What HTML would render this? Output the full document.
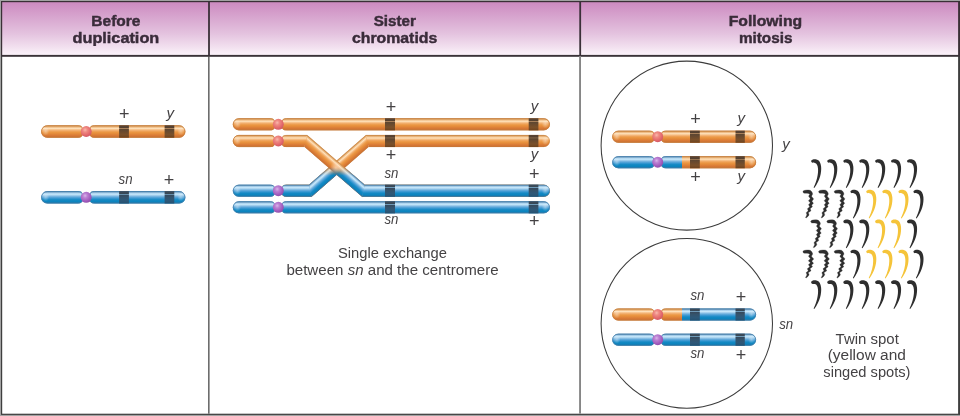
<!DOCTYPE html>
<html lang="en"><head><meta charset="utf-8"><title>Mitotic recombination: twin spot</title>
<style>
html,body{margin:0;padding:0;background:#fff;}
body{width:960px;height:416px;overflow:hidden;}
svg{display:block;font-family:"Liberation Sans",sans-serif;}
</style></head><body>
<svg width="960" height="416" viewBox="0 0 960 416">
<defs>
<radialGradient id="rg1"><stop offset="0" stop-color="#fff" stop-opacity="0.38"/><stop offset="0.5" stop-color="#fff" stop-opacity="0.2"/><stop offset="1" stop-color="#fff" stop-opacity="0"/></radialGradient>
<radialGradient id="rg2" cx="0.4" cy="0.35" r="0.7"><stop offset="0" stop-color="#f9b8ae"/><stop offset="0.3" stop-color="#ef8a82"/><stop offset="0.7" stop-color="#e3686c"/><stop offset="1" stop-color="#cc5666"/></radialGradient>
<radialGradient id="rg3" cx="0.4" cy="0.35" r="0.7"><stop offset="0" stop-color="#dab4ea"/><stop offset="0.3" stop-color="#bb80d2"/><stop offset="0.7" stop-color="#a25cbe"/><stop offset="1" stop-color="#8c4ca8"/></radialGradient>
<linearGradient id="lg4" gradientUnits="userSpaceOnUse" x1="0.00" y1="2.00" x2="0.00" y2="55.00"><stop offset="0" stop-color="#cc8abf"/><stop offset="0.06" stop-color="#cf90c3"/><stop offset="0.25" stop-color="#d6a2cd"/><stop offset="0.6" stop-color="#e4c3df"/><stop offset="0.85" stop-color="#f2e0ef"/><stop offset="1" stop-color="#fbf3fa"/></linearGradient>
<linearGradient id="lg5" gradientUnits="userSpaceOnUse" x1="41.10" y1="125.30" x2="41.10" y2="137.70"><stop offset="0" stop-color="#d49a5c"/><stop offset="0.08" stop-color="#dba05e"/><stop offset="0.16" stop-color="#f0c08c"/><stop offset="0.25" stop-color="#fee2bc"/><stop offset="0.34" stop-color="#f8c48e"/><stop offset="0.46" stop-color="#efa45c"/><stop offset="0.58" stop-color="#ea9540"/><stop offset="0.7" stop-color="#e2883a"/><stop offset="0.82" stop-color="#d97a36"/><stop offset="0.93" stop-color="#cf7232"/><stop offset="1" stop-color="#c46c2e"/></linearGradient>
<linearGradient id="lg6" gradientUnits="userSpaceOnUse" x1="89.80" y1="125.30" x2="89.80" y2="137.70"><stop offset="0" stop-color="#d49a5c"/><stop offset="0.08" stop-color="#dba05e"/><stop offset="0.16" stop-color="#f0c08c"/><stop offset="0.25" stop-color="#fee2bc"/><stop offset="0.34" stop-color="#f8c48e"/><stop offset="0.46" stop-color="#efa45c"/><stop offset="0.58" stop-color="#ea9540"/><stop offset="0.7" stop-color="#e2883a"/><stop offset="0.82" stop-color="#d97a36"/><stop offset="0.93" stop-color="#cf7232"/><stop offset="1" stop-color="#c46c2e"/></linearGradient>
<linearGradient id="lg7" gradientUnits="userSpaceOnUse" x1="0.00" y1="125.30" x2="0.00" y2="137.70"><stop offset="0" stop-color="#5a4434"/><stop offset="0.2" stop-color="#54402f"/><stop offset="0.23" stop-color="#a8805a"/><stop offset="0.27" stop-color="#a8805a"/><stop offset="0.3" stop-color="#5c4632"/><stop offset="0.5" stop-color="#6a4a2e"/><stop offset="0.75" stop-color="#7a502a"/><stop offset="1" stop-color="#6e431e"/></linearGradient>
<linearGradient id="lg8" gradientUnits="userSpaceOnUse" x1="0.00" y1="125.30" x2="0.00" y2="137.70"><stop offset="0" stop-color="#5a4434"/><stop offset="0.2" stop-color="#54402f"/><stop offset="0.23" stop-color="#a8805a"/><stop offset="0.27" stop-color="#a8805a"/><stop offset="0.3" stop-color="#5c4632"/><stop offset="0.5" stop-color="#6a4a2e"/><stop offset="0.75" stop-color="#7a502a"/><stop offset="1" stop-color="#6e431e"/></linearGradient>
<linearGradient id="lg9" gradientUnits="userSpaceOnUse" x1="41.10" y1="191.10" x2="41.10" y2="203.50"><stop offset="0" stop-color="#5f8db2"/><stop offset="0.08" stop-color="#6f9cc0"/><stop offset="0.16" stop-color="#a8d0ec"/><stop offset="0.25" stop-color="#c8e8fb"/><stop offset="0.34" stop-color="#a4d0ee"/><stop offset="0.46" stop-color="#68acdc"/><stop offset="0.58" stop-color="#3a98d2"/><stop offset="0.7" stop-color="#1489c4"/><stop offset="0.85" stop-color="#0c84be"/><stop offset="0.94" stop-color="#1478ae"/><stop offset="1" stop-color="#2074a4"/></linearGradient>
<linearGradient id="lg10" gradientUnits="userSpaceOnUse" x1="89.80" y1="191.10" x2="89.80" y2="203.50"><stop offset="0" stop-color="#5f8db2"/><stop offset="0.08" stop-color="#6f9cc0"/><stop offset="0.16" stop-color="#a8d0ec"/><stop offset="0.25" stop-color="#c8e8fb"/><stop offset="0.34" stop-color="#a4d0ee"/><stop offset="0.46" stop-color="#68acdc"/><stop offset="0.58" stop-color="#3a98d2"/><stop offset="0.7" stop-color="#1489c4"/><stop offset="0.85" stop-color="#0c84be"/><stop offset="0.94" stop-color="#1478ae"/><stop offset="1" stop-color="#2074a4"/></linearGradient>
<linearGradient id="lg11" gradientUnits="userSpaceOnUse" x1="0.00" y1="191.10" x2="0.00" y2="203.50"><stop offset="0" stop-color="#3c4c5c"/><stop offset="0.2" stop-color="#384856"/><stop offset="0.23" stop-color="#6e9ab8"/><stop offset="0.27" stop-color="#6e9ab8"/><stop offset="0.3" stop-color="#36495c"/><stop offset="0.5" stop-color="#34536c"/><stop offset="0.75" stop-color="#2e5878"/><stop offset="1" stop-color="#255272"/></linearGradient>
<linearGradient id="lg12" gradientUnits="userSpaceOnUse" x1="0.00" y1="191.10" x2="0.00" y2="203.50"><stop offset="0" stop-color="#3c4c5c"/><stop offset="0.2" stop-color="#384856"/><stop offset="0.23" stop-color="#6e9ab8"/><stop offset="0.27" stop-color="#6e9ab8"/><stop offset="0.3" stop-color="#36495c"/><stop offset="0.5" stop-color="#34536c"/><stop offset="0.75" stop-color="#2e5878"/><stop offset="1" stop-color="#255272"/></linearGradient>
<linearGradient id="lg13" gradientUnits="userSpaceOnUse" x1="232.80" y1="118.25" x2="232.80" y2="130.35"><stop offset="0" stop-color="#d49a5c"/><stop offset="0.08" stop-color="#dba05e"/><stop offset="0.16" stop-color="#f0c08c"/><stop offset="0.25" stop-color="#fee2bc"/><stop offset="0.34" stop-color="#f8c48e"/><stop offset="0.46" stop-color="#efa45c"/><stop offset="0.58" stop-color="#ea9540"/><stop offset="0.7" stop-color="#e2883a"/><stop offset="0.82" stop-color="#d97a36"/><stop offset="0.93" stop-color="#cf7232"/><stop offset="1" stop-color="#c46c2e"/></linearGradient>
<linearGradient id="lg14" gradientUnits="userSpaceOnUse" x1="281.90" y1="118.25" x2="281.90" y2="130.35"><stop offset="0" stop-color="#d49a5c"/><stop offset="0.08" stop-color="#dba05e"/><stop offset="0.16" stop-color="#f0c08c"/><stop offset="0.25" stop-color="#fee2bc"/><stop offset="0.34" stop-color="#f8c48e"/><stop offset="0.46" stop-color="#efa45c"/><stop offset="0.58" stop-color="#ea9540"/><stop offset="0.7" stop-color="#e2883a"/><stop offset="0.82" stop-color="#d97a36"/><stop offset="0.93" stop-color="#cf7232"/><stop offset="1" stop-color="#c46c2e"/></linearGradient>
<linearGradient id="lg15" gradientUnits="userSpaceOnUse" x1="0.00" y1="118.25" x2="0.00" y2="130.35"><stop offset="0" stop-color="#5a4434"/><stop offset="0.2" stop-color="#54402f"/><stop offset="0.23" stop-color="#a8805a"/><stop offset="0.27" stop-color="#a8805a"/><stop offset="0.3" stop-color="#5c4632"/><stop offset="0.5" stop-color="#6a4a2e"/><stop offset="0.75" stop-color="#7a502a"/><stop offset="1" stop-color="#6e431e"/></linearGradient>
<linearGradient id="lg16" gradientUnits="userSpaceOnUse" x1="0.00" y1="118.25" x2="0.00" y2="130.35"><stop offset="0" stop-color="#5a4434"/><stop offset="0.2" stop-color="#54402f"/><stop offset="0.23" stop-color="#a8805a"/><stop offset="0.27" stop-color="#a8805a"/><stop offset="0.3" stop-color="#5c4632"/><stop offset="0.5" stop-color="#6a4a2e"/><stop offset="0.75" stop-color="#7a502a"/><stop offset="1" stop-color="#6e431e"/></linearGradient>
<linearGradient id="lg17" gradientUnits="userSpaceOnUse" x1="232.80" y1="201.25" x2="232.80" y2="213.35"><stop offset="0" stop-color="#5f8db2"/><stop offset="0.08" stop-color="#6f9cc0"/><stop offset="0.16" stop-color="#a8d0ec"/><stop offset="0.25" stop-color="#c8e8fb"/><stop offset="0.34" stop-color="#a4d0ee"/><stop offset="0.46" stop-color="#68acdc"/><stop offset="0.58" stop-color="#3a98d2"/><stop offset="0.7" stop-color="#1489c4"/><stop offset="0.85" stop-color="#0c84be"/><stop offset="0.94" stop-color="#1478ae"/><stop offset="1" stop-color="#2074a4"/></linearGradient>
<linearGradient id="lg18" gradientUnits="userSpaceOnUse" x1="281.90" y1="201.25" x2="281.90" y2="213.35"><stop offset="0" stop-color="#5f8db2"/><stop offset="0.08" stop-color="#6f9cc0"/><stop offset="0.16" stop-color="#a8d0ec"/><stop offset="0.25" stop-color="#c8e8fb"/><stop offset="0.34" stop-color="#a4d0ee"/><stop offset="0.46" stop-color="#68acdc"/><stop offset="0.58" stop-color="#3a98d2"/><stop offset="0.7" stop-color="#1489c4"/><stop offset="0.85" stop-color="#0c84be"/><stop offset="0.94" stop-color="#1478ae"/><stop offset="1" stop-color="#2074a4"/></linearGradient>
<linearGradient id="lg19" gradientUnits="userSpaceOnUse" x1="0.00" y1="201.25" x2="0.00" y2="213.35"><stop offset="0" stop-color="#3c4c5c"/><stop offset="0.2" stop-color="#384856"/><stop offset="0.23" stop-color="#6e9ab8"/><stop offset="0.27" stop-color="#6e9ab8"/><stop offset="0.3" stop-color="#36495c"/><stop offset="0.5" stop-color="#34536c"/><stop offset="0.75" stop-color="#2e5878"/><stop offset="1" stop-color="#255272"/></linearGradient>
<linearGradient id="lg20" gradientUnits="userSpaceOnUse" x1="0.00" y1="201.25" x2="0.00" y2="213.35"><stop offset="0" stop-color="#3c4c5c"/><stop offset="0.2" stop-color="#384856"/><stop offset="0.23" stop-color="#6e9ab8"/><stop offset="0.27" stop-color="#6e9ab8"/><stop offset="0.3" stop-color="#36495c"/><stop offset="0.5" stop-color="#34536c"/><stop offset="0.75" stop-color="#2e5878"/><stop offset="1" stop-color="#255272"/></linearGradient>
<linearGradient id="lg21" gradientUnits="userSpaceOnUse" x1="0.00" y1="157.50" x2="0.00" y2="181.50"><stop offset="0" stop-color="#000"/><stop offset="0.4" stop-color="#000"/><stop offset="0.75" stop-color="#fff"/><stop offset="1" stop-color="#fff"/></linearGradient>
<mask id="mlow" maskUnits="userSpaceOnUse" x="0" y="0" width="960" height="416"><rect x="0" y="0" width="960" height="416" fill="url(#lg21)"/></mask>
<linearGradient id="lg22" gradientUnits="userSpaceOnUse" x1="232.80" y1="134.95" x2="232.80" y2="147.05"><stop offset="0" stop-color="#d49a5c"/><stop offset="0.08" stop-color="#dba05e"/><stop offset="0.16" stop-color="#f0c08c"/><stop offset="0.25" stop-color="#fee2bc"/><stop offset="0.34" stop-color="#f8c48e"/><stop offset="0.46" stop-color="#efa45c"/><stop offset="0.58" stop-color="#ea9540"/><stop offset="0.7" stop-color="#e2883a"/><stop offset="0.82" stop-color="#d97a36"/><stop offset="0.93" stop-color="#cf7232"/><stop offset="1" stop-color="#c46c2e"/></linearGradient>
<linearGradient id="lg23" gradientUnits="userSpaceOnUse" x1="232.80" y1="184.65" x2="232.80" y2="196.75"><stop offset="0" stop-color="#5f8db2"/><stop offset="0.08" stop-color="#6f9cc0"/><stop offset="0.16" stop-color="#a8d0ec"/><stop offset="0.25" stop-color="#c8e8fb"/><stop offset="0.34" stop-color="#a4d0ee"/><stop offset="0.46" stop-color="#68acdc"/><stop offset="0.58" stop-color="#3a98d2"/><stop offset="0.7" stop-color="#1489c4"/><stop offset="0.85" stop-color="#0c84be"/><stop offset="0.94" stop-color="#1478ae"/><stop offset="1" stop-color="#2074a4"/></linearGradient>
<linearGradient id="lg24" gradientUnits="userSpaceOnUse" x1="281.90" y1="184.65" x2="281.90" y2="196.75"><stop offset="0" stop-color="#d49a5c"/><stop offset="0.08" stop-color="#dba05e"/><stop offset="0.16" stop-color="#f0c08c"/><stop offset="0.25" stop-color="#fee2bc"/><stop offset="0.34" stop-color="#f8c48e"/><stop offset="0.46" stop-color="#efa45c"/><stop offset="0.58" stop-color="#ea9540"/><stop offset="0.7" stop-color="#e2883a"/><stop offset="0.82" stop-color="#d97a36"/><stop offset="0.93" stop-color="#cf7232"/><stop offset="1" stop-color="#c46c2e"/></linearGradient>
<linearGradient id="lg25" gradientUnits="userSpaceOnUse" x1="306.71" y1="186.60" x2="313.89" y2="194.80"><stop offset="0" stop-color="#d49a5c"/><stop offset="0.08" stop-color="#dba05e"/><stop offset="0.16" stop-color="#f0c08c"/><stop offset="0.25" stop-color="#fee2bc"/><stop offset="0.34" stop-color="#f8c48e"/><stop offset="0.46" stop-color="#efa45c"/><stop offset="0.58" stop-color="#ea9540"/><stop offset="0.7" stop-color="#e2883a"/><stop offset="0.82" stop-color="#d97a36"/><stop offset="0.93" stop-color="#cf7232"/><stop offset="1" stop-color="#c46c2e"/></linearGradient>
<linearGradient id="lg26" gradientUnits="userSpaceOnUse" x1="367.20" y1="134.95" x2="367.20" y2="147.05"><stop offset="0" stop-color="#d49a5c"/><stop offset="0.08" stop-color="#dba05e"/><stop offset="0.16" stop-color="#f0c08c"/><stop offset="0.25" stop-color="#fee2bc"/><stop offset="0.34" stop-color="#f8c48e"/><stop offset="0.46" stop-color="#efa45c"/><stop offset="0.58" stop-color="#ea9540"/><stop offset="0.7" stop-color="#e2883a"/><stop offset="0.82" stop-color="#d97a36"/><stop offset="0.93" stop-color="#cf7232"/><stop offset="1" stop-color="#c46c2e"/></linearGradient>
<linearGradient id="lg27" gradientUnits="userSpaceOnUse" x1="281.90" y1="134.95" x2="281.90" y2="147.05"><stop offset="0" stop-color="#d49a5c"/><stop offset="0.08" stop-color="#dba05e"/><stop offset="0.16" stop-color="#f0c08c"/><stop offset="0.25" stop-color="#fee2bc"/><stop offset="0.34" stop-color="#f8c48e"/><stop offset="0.46" stop-color="#efa45c"/><stop offset="0.58" stop-color="#ea9540"/><stop offset="0.7" stop-color="#e2883a"/><stop offset="0.82" stop-color="#d97a36"/><stop offset="0.93" stop-color="#cf7232"/><stop offset="1" stop-color="#c46c2e"/></linearGradient>
<linearGradient id="lg28" gradientUnits="userSpaceOnUse" x1="309.46" y1="136.88" x2="302.34" y2="145.12"><stop offset="0" stop-color="#d49a5c"/><stop offset="0.08" stop-color="#dba05e"/><stop offset="0.16" stop-color="#f0c08c"/><stop offset="0.25" stop-color="#fee2bc"/><stop offset="0.34" stop-color="#f8c48e"/><stop offset="0.46" stop-color="#efa45c"/><stop offset="0.58" stop-color="#ea9540"/><stop offset="0.7" stop-color="#e2883a"/><stop offset="0.82" stop-color="#d97a36"/><stop offset="0.93" stop-color="#cf7232"/><stop offset="1" stop-color="#c46c2e"/></linearGradient>
<linearGradient id="lg29" gradientUnits="userSpaceOnUse" x1="363.40" y1="184.65" x2="363.40" y2="196.75"><stop offset="0" stop-color="#d49a5c"/><stop offset="0.08" stop-color="#dba05e"/><stop offset="0.16" stop-color="#f0c08c"/><stop offset="0.25" stop-color="#fee2bc"/><stop offset="0.34" stop-color="#f8c48e"/><stop offset="0.46" stop-color="#efa45c"/><stop offset="0.58" stop-color="#ea9540"/><stop offset="0.7" stop-color="#e2883a"/><stop offset="0.82" stop-color="#d97a36"/><stop offset="0.93" stop-color="#cf7232"/><stop offset="1" stop-color="#c46c2e"/></linearGradient>
<linearGradient id="lg30" gradientUnits="userSpaceOnUse" x1="281.90" y1="184.65" x2="281.90" y2="196.75"><stop offset="0" stop-color="#5f8db2"/><stop offset="0.08" stop-color="#6f9cc0"/><stop offset="0.16" stop-color="#a8d0ec"/><stop offset="0.25" stop-color="#c8e8fb"/><stop offset="0.34" stop-color="#a4d0ee"/><stop offset="0.46" stop-color="#68acdc"/><stop offset="0.58" stop-color="#3a98d2"/><stop offset="0.7" stop-color="#1489c4"/><stop offset="0.85" stop-color="#0c84be"/><stop offset="0.94" stop-color="#1478ae"/><stop offset="1" stop-color="#2074a4"/></linearGradient>
<linearGradient id="lg31" gradientUnits="userSpaceOnUse" x1="306.71" y1="186.60" x2="313.89" y2="194.80"><stop offset="0" stop-color="#5f8db2"/><stop offset="0.08" stop-color="#6f9cc0"/><stop offset="0.16" stop-color="#a8d0ec"/><stop offset="0.25" stop-color="#c8e8fb"/><stop offset="0.34" stop-color="#a4d0ee"/><stop offset="0.46" stop-color="#68acdc"/><stop offset="0.58" stop-color="#3a98d2"/><stop offset="0.7" stop-color="#1489c4"/><stop offset="0.85" stop-color="#0c84be"/><stop offset="0.94" stop-color="#1478ae"/><stop offset="1" stop-color="#2074a4"/></linearGradient>
<linearGradient id="lg32" gradientUnits="userSpaceOnUse" x1="367.20" y1="134.95" x2="367.20" y2="147.05"><stop offset="0" stop-color="#5f8db2"/><stop offset="0.08" stop-color="#6f9cc0"/><stop offset="0.16" stop-color="#a8d0ec"/><stop offset="0.25" stop-color="#c8e8fb"/><stop offset="0.34" stop-color="#a4d0ee"/><stop offset="0.46" stop-color="#68acdc"/><stop offset="0.58" stop-color="#3a98d2"/><stop offset="0.7" stop-color="#1489c4"/><stop offset="0.85" stop-color="#0c84be"/><stop offset="0.94" stop-color="#1478ae"/><stop offset="1" stop-color="#2074a4"/></linearGradient>
<linearGradient id="lg33" gradientUnits="userSpaceOnUse" x1="281.90" y1="134.95" x2="281.90" y2="147.05"><stop offset="0" stop-color="#5f8db2"/><stop offset="0.08" stop-color="#6f9cc0"/><stop offset="0.16" stop-color="#a8d0ec"/><stop offset="0.25" stop-color="#c8e8fb"/><stop offset="0.34" stop-color="#a4d0ee"/><stop offset="0.46" stop-color="#68acdc"/><stop offset="0.58" stop-color="#3a98d2"/><stop offset="0.7" stop-color="#1489c4"/><stop offset="0.85" stop-color="#0c84be"/><stop offset="0.94" stop-color="#1478ae"/><stop offset="1" stop-color="#2074a4"/></linearGradient>
<linearGradient id="lg34" gradientUnits="userSpaceOnUse" x1="309.46" y1="136.88" x2="302.34" y2="145.12"><stop offset="0" stop-color="#5f8db2"/><stop offset="0.08" stop-color="#6f9cc0"/><stop offset="0.16" stop-color="#a8d0ec"/><stop offset="0.25" stop-color="#c8e8fb"/><stop offset="0.34" stop-color="#a4d0ee"/><stop offset="0.46" stop-color="#68acdc"/><stop offset="0.58" stop-color="#3a98d2"/><stop offset="0.7" stop-color="#1489c4"/><stop offset="0.85" stop-color="#0c84be"/><stop offset="0.94" stop-color="#1478ae"/><stop offset="1" stop-color="#2074a4"/></linearGradient>
<linearGradient id="lg35" gradientUnits="userSpaceOnUse" x1="363.40" y1="184.65" x2="363.40" y2="196.75"><stop offset="0" stop-color="#5f8db2"/><stop offset="0.08" stop-color="#6f9cc0"/><stop offset="0.16" stop-color="#a8d0ec"/><stop offset="0.25" stop-color="#c8e8fb"/><stop offset="0.34" stop-color="#a4d0ee"/><stop offset="0.46" stop-color="#68acdc"/><stop offset="0.58" stop-color="#3a98d2"/><stop offset="0.7" stop-color="#1489c4"/><stop offset="0.85" stop-color="#0c84be"/><stop offset="0.94" stop-color="#1478ae"/><stop offset="1" stop-color="#2074a4"/></linearGradient>
<radialGradient id="rg36"><stop offset="0" stop-color="#ffe8d8" stop-opacity="0.6"/><stop offset="1" stop-color="#ffe8d8" stop-opacity="0"/></radialGradient>
<linearGradient id="lg37" gradientUnits="userSpaceOnUse" x1="0.00" y1="134.95" x2="0.00" y2="147.05"><stop offset="0" stop-color="#5a4434"/><stop offset="0.2" stop-color="#54402f"/><stop offset="0.23" stop-color="#a8805a"/><stop offset="0.27" stop-color="#a8805a"/><stop offset="0.3" stop-color="#5c4632"/><stop offset="0.5" stop-color="#6a4a2e"/><stop offset="0.75" stop-color="#7a502a"/><stop offset="1" stop-color="#6e431e"/></linearGradient>
<linearGradient id="lg38" gradientUnits="userSpaceOnUse" x1="0.00" y1="184.65" x2="0.00" y2="196.75"><stop offset="0" stop-color="#3c4c5c"/><stop offset="0.2" stop-color="#384856"/><stop offset="0.23" stop-color="#6e9ab8"/><stop offset="0.27" stop-color="#6e9ab8"/><stop offset="0.3" stop-color="#36495c"/><stop offset="0.5" stop-color="#34536c"/><stop offset="0.75" stop-color="#2e5878"/><stop offset="1" stop-color="#255272"/></linearGradient>
<linearGradient id="lg39" gradientUnits="userSpaceOnUse" x1="0.00" y1="134.95" x2="0.00" y2="147.05"><stop offset="0" stop-color="#5a4434"/><stop offset="0.2" stop-color="#54402f"/><stop offset="0.23" stop-color="#a8805a"/><stop offset="0.27" stop-color="#a8805a"/><stop offset="0.3" stop-color="#5c4632"/><stop offset="0.5" stop-color="#6a4a2e"/><stop offset="0.75" stop-color="#7a502a"/><stop offset="1" stop-color="#6e431e"/></linearGradient>
<linearGradient id="lg40" gradientUnits="userSpaceOnUse" x1="0.00" y1="184.65" x2="0.00" y2="196.75"><stop offset="0" stop-color="#3c4c5c"/><stop offset="0.2" stop-color="#384856"/><stop offset="0.23" stop-color="#6e9ab8"/><stop offset="0.27" stop-color="#6e9ab8"/><stop offset="0.3" stop-color="#36495c"/><stop offset="0.5" stop-color="#34536c"/><stop offset="0.75" stop-color="#2e5878"/><stop offset="1" stop-color="#255272"/></linearGradient>
<linearGradient id="lg41" gradientUnits="userSpaceOnUse" x1="612.20" y1="130.65" x2="612.20" y2="142.75"><stop offset="0" stop-color="#d49a5c"/><stop offset="0.08" stop-color="#dba05e"/><stop offset="0.16" stop-color="#f0c08c"/><stop offset="0.25" stop-color="#fee2bc"/><stop offset="0.34" stop-color="#f8c48e"/><stop offset="0.46" stop-color="#efa45c"/><stop offset="0.58" stop-color="#ea9540"/><stop offset="0.7" stop-color="#e2883a"/><stop offset="0.82" stop-color="#d97a36"/><stop offset="0.93" stop-color="#cf7232"/><stop offset="1" stop-color="#c46c2e"/></linearGradient>
<linearGradient id="lg42" gradientUnits="userSpaceOnUse" x1="661.30" y1="130.65" x2="661.30" y2="142.75"><stop offset="0" stop-color="#d49a5c"/><stop offset="0.08" stop-color="#dba05e"/><stop offset="0.16" stop-color="#f0c08c"/><stop offset="0.25" stop-color="#fee2bc"/><stop offset="0.34" stop-color="#f8c48e"/><stop offset="0.46" stop-color="#efa45c"/><stop offset="0.58" stop-color="#ea9540"/><stop offset="0.7" stop-color="#e2883a"/><stop offset="0.82" stop-color="#d97a36"/><stop offset="0.93" stop-color="#cf7232"/><stop offset="1" stop-color="#c46c2e"/></linearGradient>
<linearGradient id="lg43" gradientUnits="userSpaceOnUse" x1="0.00" y1="130.65" x2="0.00" y2="142.75"><stop offset="0" stop-color="#5a4434"/><stop offset="0.2" stop-color="#54402f"/><stop offset="0.23" stop-color="#a8805a"/><stop offset="0.27" stop-color="#a8805a"/><stop offset="0.3" stop-color="#5c4632"/><stop offset="0.5" stop-color="#6a4a2e"/><stop offset="0.75" stop-color="#7a502a"/><stop offset="1" stop-color="#6e431e"/></linearGradient>
<linearGradient id="lg44" gradientUnits="userSpaceOnUse" x1="0.00" y1="130.65" x2="0.00" y2="142.75"><stop offset="0" stop-color="#5a4434"/><stop offset="0.2" stop-color="#54402f"/><stop offset="0.23" stop-color="#a8805a"/><stop offset="0.27" stop-color="#a8805a"/><stop offset="0.3" stop-color="#5c4632"/><stop offset="0.5" stop-color="#6a4a2e"/><stop offset="0.75" stop-color="#7a502a"/><stop offset="1" stop-color="#6e431e"/></linearGradient>
<linearGradient id="lg45" gradientUnits="userSpaceOnUse" x1="612.20" y1="156.15" x2="612.20" y2="168.25"><stop offset="0" stop-color="#5f8db2"/><stop offset="0.08" stop-color="#6f9cc0"/><stop offset="0.16" stop-color="#a8d0ec"/><stop offset="0.25" stop-color="#c8e8fb"/><stop offset="0.34" stop-color="#a4d0ee"/><stop offset="0.46" stop-color="#68acdc"/><stop offset="0.58" stop-color="#3a98d2"/><stop offset="0.7" stop-color="#1489c4"/><stop offset="0.85" stop-color="#0c84be"/><stop offset="0.94" stop-color="#1478ae"/><stop offset="1" stop-color="#2074a4"/></linearGradient>
<clipPath id="cp46"><rect x="0" y="152.2" width="682" height="20.0"/></clipPath>
<clipPath id="cp47"><rect x="682" y="152.2" width="318" height="20.0"/></clipPath>
<linearGradient id="lg48" gradientUnits="userSpaceOnUse" x1="661.30" y1="156.15" x2="661.30" y2="168.25"><stop offset="0" stop-color="#5f8db2"/><stop offset="0.08" stop-color="#6f9cc0"/><stop offset="0.16" stop-color="#a8d0ec"/><stop offset="0.25" stop-color="#c8e8fb"/><stop offset="0.34" stop-color="#a4d0ee"/><stop offset="0.46" stop-color="#68acdc"/><stop offset="0.58" stop-color="#3a98d2"/><stop offset="0.7" stop-color="#1489c4"/><stop offset="0.85" stop-color="#0c84be"/><stop offset="0.94" stop-color="#1478ae"/><stop offset="1" stop-color="#2074a4"/></linearGradient>
<linearGradient id="lg49" gradientUnits="userSpaceOnUse" x1="661.30" y1="156.15" x2="661.30" y2="168.25"><stop offset="0" stop-color="#d49a5c"/><stop offset="0.08" stop-color="#dba05e"/><stop offset="0.16" stop-color="#f0c08c"/><stop offset="0.25" stop-color="#fee2bc"/><stop offset="0.34" stop-color="#f8c48e"/><stop offset="0.46" stop-color="#efa45c"/><stop offset="0.58" stop-color="#ea9540"/><stop offset="0.7" stop-color="#e2883a"/><stop offset="0.82" stop-color="#d97a36"/><stop offset="0.93" stop-color="#cf7232"/><stop offset="1" stop-color="#c46c2e"/></linearGradient>
<linearGradient id="lg50" gradientUnits="userSpaceOnUse" x1="0.00" y1="156.15" x2="0.00" y2="168.25"><stop offset="0" stop-color="#5a4434"/><stop offset="0.2" stop-color="#54402f"/><stop offset="0.23" stop-color="#a8805a"/><stop offset="0.27" stop-color="#a8805a"/><stop offset="0.3" stop-color="#5c4632"/><stop offset="0.5" stop-color="#6a4a2e"/><stop offset="0.75" stop-color="#7a502a"/><stop offset="1" stop-color="#6e431e"/></linearGradient>
<linearGradient id="lg51" gradientUnits="userSpaceOnUse" x1="0.00" y1="156.15" x2="0.00" y2="168.25"><stop offset="0" stop-color="#5a4434"/><stop offset="0.2" stop-color="#54402f"/><stop offset="0.23" stop-color="#a8805a"/><stop offset="0.27" stop-color="#a8805a"/><stop offset="0.3" stop-color="#5c4632"/><stop offset="0.5" stop-color="#6a4a2e"/><stop offset="0.75" stop-color="#7a502a"/><stop offset="1" stop-color="#6e431e"/></linearGradient>
<linearGradient id="lg52" gradientUnits="userSpaceOnUse" x1="612.20" y1="308.45" x2="612.20" y2="320.55"><stop offset="0" stop-color="#d49a5c"/><stop offset="0.08" stop-color="#dba05e"/><stop offset="0.16" stop-color="#f0c08c"/><stop offset="0.25" stop-color="#fee2bc"/><stop offset="0.34" stop-color="#f8c48e"/><stop offset="0.46" stop-color="#efa45c"/><stop offset="0.58" stop-color="#ea9540"/><stop offset="0.7" stop-color="#e2883a"/><stop offset="0.82" stop-color="#d97a36"/><stop offset="0.93" stop-color="#cf7232"/><stop offset="1" stop-color="#c46c2e"/></linearGradient>
<clipPath id="cp53"><rect x="0" y="304.5" width="682" height="20.0"/></clipPath>
<clipPath id="cp54"><rect x="682" y="304.5" width="318" height="20.0"/></clipPath>
<linearGradient id="lg55" gradientUnits="userSpaceOnUse" x1="661.30" y1="308.45" x2="661.30" y2="320.55"><stop offset="0" stop-color="#d49a5c"/><stop offset="0.08" stop-color="#dba05e"/><stop offset="0.16" stop-color="#f0c08c"/><stop offset="0.25" stop-color="#fee2bc"/><stop offset="0.34" stop-color="#f8c48e"/><stop offset="0.46" stop-color="#efa45c"/><stop offset="0.58" stop-color="#ea9540"/><stop offset="0.7" stop-color="#e2883a"/><stop offset="0.82" stop-color="#d97a36"/><stop offset="0.93" stop-color="#cf7232"/><stop offset="1" stop-color="#c46c2e"/></linearGradient>
<linearGradient id="lg56" gradientUnits="userSpaceOnUse" x1="661.30" y1="308.45" x2="661.30" y2="320.55"><stop offset="0" stop-color="#5f8db2"/><stop offset="0.08" stop-color="#6f9cc0"/><stop offset="0.16" stop-color="#a8d0ec"/><stop offset="0.25" stop-color="#c8e8fb"/><stop offset="0.34" stop-color="#a4d0ee"/><stop offset="0.46" stop-color="#68acdc"/><stop offset="0.58" stop-color="#3a98d2"/><stop offset="0.7" stop-color="#1489c4"/><stop offset="0.85" stop-color="#0c84be"/><stop offset="0.94" stop-color="#1478ae"/><stop offset="1" stop-color="#2074a4"/></linearGradient>
<linearGradient id="lg57" gradientUnits="userSpaceOnUse" x1="0.00" y1="308.45" x2="0.00" y2="320.55"><stop offset="0" stop-color="#3c4c5c"/><stop offset="0.2" stop-color="#384856"/><stop offset="0.23" stop-color="#6e9ab8"/><stop offset="0.27" stop-color="#6e9ab8"/><stop offset="0.3" stop-color="#36495c"/><stop offset="0.5" stop-color="#34536c"/><stop offset="0.75" stop-color="#2e5878"/><stop offset="1" stop-color="#255272"/></linearGradient>
<linearGradient id="lg58" gradientUnits="userSpaceOnUse" x1="0.00" y1="308.45" x2="0.00" y2="320.55"><stop offset="0" stop-color="#3c4c5c"/><stop offset="0.2" stop-color="#384856"/><stop offset="0.23" stop-color="#6e9ab8"/><stop offset="0.27" stop-color="#6e9ab8"/><stop offset="0.3" stop-color="#36495c"/><stop offset="0.5" stop-color="#34536c"/><stop offset="0.75" stop-color="#2e5878"/><stop offset="1" stop-color="#255272"/></linearGradient>
<linearGradient id="lg59" gradientUnits="userSpaceOnUse" x1="612.20" y1="333.65" x2="612.20" y2="345.75"><stop offset="0" stop-color="#5f8db2"/><stop offset="0.08" stop-color="#6f9cc0"/><stop offset="0.16" stop-color="#a8d0ec"/><stop offset="0.25" stop-color="#c8e8fb"/><stop offset="0.34" stop-color="#a4d0ee"/><stop offset="0.46" stop-color="#68acdc"/><stop offset="0.58" stop-color="#3a98d2"/><stop offset="0.7" stop-color="#1489c4"/><stop offset="0.85" stop-color="#0c84be"/><stop offset="0.94" stop-color="#1478ae"/><stop offset="1" stop-color="#2074a4"/></linearGradient>
<linearGradient id="lg60" gradientUnits="userSpaceOnUse" x1="661.30" y1="333.65" x2="661.30" y2="345.75"><stop offset="0" stop-color="#5f8db2"/><stop offset="0.08" stop-color="#6f9cc0"/><stop offset="0.16" stop-color="#a8d0ec"/><stop offset="0.25" stop-color="#c8e8fb"/><stop offset="0.34" stop-color="#a4d0ee"/><stop offset="0.46" stop-color="#68acdc"/><stop offset="0.58" stop-color="#3a98d2"/><stop offset="0.7" stop-color="#1489c4"/><stop offset="0.85" stop-color="#0c84be"/><stop offset="0.94" stop-color="#1478ae"/><stop offset="1" stop-color="#2074a4"/></linearGradient>
<linearGradient id="lg61" gradientUnits="userSpaceOnUse" x1="0.00" y1="333.65" x2="0.00" y2="345.75"><stop offset="0" stop-color="#3c4c5c"/><stop offset="0.2" stop-color="#384856"/><stop offset="0.23" stop-color="#6e9ab8"/><stop offset="0.27" stop-color="#6e9ab8"/><stop offset="0.3" stop-color="#36495c"/><stop offset="0.5" stop-color="#34536c"/><stop offset="0.75" stop-color="#2e5878"/><stop offset="1" stop-color="#255272"/></linearGradient>
<linearGradient id="lg62" gradientUnits="userSpaceOnUse" x1="0.00" y1="333.65" x2="0.00" y2="345.75"><stop offset="0" stop-color="#3c4c5c"/><stop offset="0.2" stop-color="#384856"/><stop offset="0.23" stop-color="#6e9ab8"/><stop offset="0.27" stop-color="#6e9ab8"/><stop offset="0.3" stop-color="#36495c"/><stop offset="0.5" stop-color="#34536c"/><stop offset="0.75" stop-color="#2e5878"/><stop offset="1" stop-color="#255272"/></linearGradient>
<path id="bn" d="M-0.2,1.6 C0.2,0.0 2.8,-0.6 5.2,-0.1 C8.0,0.5 9.4,3.0 9.8,7.0 C10.4,13 8.6,21 3.0,28.5 L2.3,28.0 C5.6,21.5 7.2,14 6.7,9 C6.4,5.8 5.4,4.0 3.6,3.5 C2.2,3.3 0.2,3.8 -0.2,1.6 Z"/>
<path id="bs" d="M0.00,1.25 Q0.20,0.70 1.85,0.30 Q3.50,-0.10 5.45,0.00 Q7.40,0.10 8.15,1.00 Q8.90,1.90 9.45,3.05 Q10.00,4.20 8.95,5.30 Q7.90,6.40 9.70,7.65 Q11.50,8.90 9.85,10.05 Q8.20,11.20 9.70,12.25 Q11.20,13.30 9.55,14.20 Q7.90,15.10 9.05,15.95 Q10.20,16.80 8.30,17.70 Q6.40,18.60 7.60,19.80 Q8.80,21.00 6.70,21.75 Q4.60,22.50 5.70,23.65 Q6.80,24.80 4.95,26.40 L3.10,28.00 L2.80,27.75 L2.50,27.50 L3.40,26.05 Q4.30,24.60 3.45,23.55 Q2.60,22.50 4.25,21.65 Q5.90,20.80 4.80,19.70 Q3.70,18.60 5.60,17.70 Q7.50,16.80 6.15,15.70 Q4.80,14.60 6.45,13.75 Q8.10,12.90 6.35,11.80 Q4.60,10.70 6.35,9.70 Q8.10,8.70 6.55,7.50 Q5.00,6.30 6.10,5.35 Q7.20,4.40 6.40,3.90 Q5.60,3.40 4.05,3.25 Q2.50,3.10 1.55,3.15 Q0.60,3.20 0.20,2.50 Q-0.20,1.80 0.00,1.25 Z" stroke-linejoin="round" stroke-width="0.3"/>
</defs>
<rect x="0" y="0" width="960" height="416" fill="#a2a2a2"/>
<rect x="1" y="1" width="959" height="413.9" fill="#3e3e3e"/>
<rect x="1" y="1" width="959" height="55" fill="#3a3036"/>
<rect x="2.2" y="55" width="955.9" height="358.7" fill="#ffffff"/>
<rect x="2.2" y="2.2" width="955.9" height="52.8" fill="url(#lg4)"/>
<rect x="1" y="54.9" width="959" height="1.9" fill="#3a3338"/>
<rect x="208.1" y="1" width="1.8" height="55" fill="#3a3038"/>
<rect x="579.3" y="1" width="1.8" height="55" fill="#3a3038"/>
<rect x="208.2" y="56" width="1.3" height="357.7" fill="#4a4a4a"/>
<rect x="579.1" y="56" width="1.9" height="357.7" fill="#868686"/>
<g opacity="0.999">
<text x="91.30" y="26.10" font-size="15.5" textLength="49.2" lengthAdjust="spacingAndGlyphs" font-weight="bold" fill="#3a2c3a" stroke="#3a2c3a" stroke-width="0.45">Before</text>
<text x="72.55" y="42.50" font-size="15.5" textLength="86.7" lengthAdjust="spacingAndGlyphs" font-weight="bold" fill="#3a2c3a" stroke="#3a2c3a" stroke-width="0.45">duplication</text>
<text x="373.65" y="25.90" font-size="15.5" textLength="42.3" lengthAdjust="spacingAndGlyphs" font-weight="bold" fill="#3a2c3a" stroke="#3a2c3a" stroke-width="0.45">Sister</text>
<text x="351.90" y="42.50" font-size="15.5" textLength="85.4" lengthAdjust="spacingAndGlyphs" font-weight="bold" fill="#3a2c3a" stroke="#3a2c3a" stroke-width="0.45">chromatids</text>
<text x="728.75" y="25.70" font-size="15.5" textLength="73.5" lengthAdjust="spacingAndGlyphs" font-weight="bold" fill="#3a2c3a" stroke="#3a2c3a" stroke-width="0.45">Following</text>
<text x="738.95" y="42.50" font-size="15.5" textLength="53.5" lengthAdjust="spacingAndGlyphs" font-weight="bold" fill="#3a2c3a" stroke="#3a2c3a" stroke-width="0.45">mitosis</text>
</g>
<path d="M47.30,125.30 L78.00,125.30 A4.60,3.40 0 0 1 82.60,128.70 L82.60,134.30 A4.60,3.40 0 0 1 78.00,137.70 L47.30,137.70 A6.20,6.20 0 0 1 41.10,131.50 L41.10,131.50 A6.20,6.20 0 0 1 47.30,125.30 Z" fill="url(#lg5)"/>
<path d="M47.30,125.70 L78.00,125.70 A4.20,3.00 0 0 1 82.20,128.70 L82.20,134.30 A4.20,3.00 0 0 1 78.00,137.30 L47.30,137.30 A5.80,5.80 0 0 1 41.50,131.50 L41.50,131.50 A5.80,5.80 0 0 1 47.30,125.70 Z" fill="none" stroke="#c57f3f" stroke-width="0.9" stroke-opacity="0.95"/>
<ellipse cx="45.70" cy="131.20" rx="3.6" ry="4.4" fill="url(#rg1)"/>
<path d="M94.40,125.30 L179.20,125.30 A6.20,6.20 0 0 1 185.40,131.50 L185.40,131.50 A6.20,6.20 0 0 1 179.20,137.70 L94.40,137.70 A4.60,3.40 0 0 1 89.80,134.30 L89.80,128.70 A4.60,3.40 0 0 1 94.40,125.30 Z" fill="url(#lg6)"/>
<path d="M94.40,125.70 L179.20,125.70 A5.80,5.80 0 0 1 185.00,131.50 L185.00,131.50 A5.80,5.80 0 0 1 179.20,137.30 L94.40,137.30 A4.20,3.00 0 0 1 90.20,134.30 L90.20,128.70 A4.20,3.00 0 0 1 94.40,125.70 Z" fill="none" stroke="#c57f3f" stroke-width="0.9" stroke-opacity="0.95"/>
<ellipse cx="180.80" cy="131.20" rx="3.6" ry="4.4" fill="url(#rg1)"/>
<rect x="119.10" y="125.30" width="9.80" height="12.40" fill="url(#lg7)"/>
<rect x="164.60" y="125.30" width="9.70" height="12.40" fill="url(#lg8)"/>
<circle cx="86.20" cy="131.50" r="5.45" fill="url(#rg2)"/>
<path d="M47.30,191.10 L78.00,191.10 A4.60,3.40 0 0 1 82.60,194.50 L82.60,200.10 A4.60,3.40 0 0 1 78.00,203.50 L47.30,203.50 A6.20,6.20 0 0 1 41.10,197.30 L41.10,197.30 A6.20,6.20 0 0 1 47.30,191.10 Z" fill="url(#lg9)"/>
<path d="M47.30,191.50 L78.00,191.50 A4.20,3.00 0 0 1 82.20,194.50 L82.20,200.10 A4.20,3.00 0 0 1 78.00,203.10 L47.30,203.10 A5.80,5.80 0 0 1 41.50,197.30 L41.50,197.30 A5.80,5.80 0 0 1 47.30,191.50 Z" fill="none" stroke="#4580ac" stroke-width="0.9" stroke-opacity="0.95"/>
<ellipse cx="45.70" cy="197.00" rx="3.6" ry="4.4" fill="url(#rg1)"/>
<path d="M94.40,191.10 L179.20,191.10 A6.20,6.20 0 0 1 185.40,197.30 L185.40,197.30 A6.20,6.20 0 0 1 179.20,203.50 L94.40,203.50 A4.60,3.40 0 0 1 89.80,200.10 L89.80,194.50 A4.60,3.40 0 0 1 94.40,191.10 Z" fill="url(#lg10)"/>
<path d="M94.40,191.50 L179.20,191.50 A5.80,5.80 0 0 1 185.00,197.30 L185.00,197.30 A5.80,5.80 0 0 1 179.20,203.10 L94.40,203.10 A4.20,3.00 0 0 1 90.20,200.10 L90.20,194.50 A4.20,3.00 0 0 1 94.40,191.50 Z" fill="none" stroke="#4580ac" stroke-width="0.9" stroke-opacity="0.95"/>
<ellipse cx="180.80" cy="197.00" rx="3.6" ry="4.4" fill="url(#rg1)"/>
<rect x="119.10" y="191.10" width="9.80" height="12.40" fill="url(#lg11)"/>
<rect x="164.60" y="191.10" width="9.70" height="12.40" fill="url(#lg12)"/>
<circle cx="86.20" cy="197.30" r="5.45" fill="url(#rg3)"/>
<path d="M238.85,118.25 L270.10,118.25 A4.60,3.40 0 0 1 274.70,121.65 L274.70,126.95 A4.60,3.40 0 0 1 270.10,130.35 L238.85,130.35 A6.05,6.05 0 0 1 232.80,124.30 L232.80,124.30 A6.05,6.05 0 0 1 238.85,118.25 Z" fill="url(#lg13)"/>
<path d="M238.85,118.65 L270.10,118.65 A4.20,3.00 0 0 1 274.30,121.65 L274.30,126.95 A4.20,3.00 0 0 1 270.10,129.95 L238.85,129.95 A5.65,5.65 0 0 1 233.20,124.30 L233.20,124.30 A5.65,5.65 0 0 1 238.85,118.65 Z" fill="none" stroke="#c57f3f" stroke-width="0.9" stroke-opacity="0.95"/>
<ellipse cx="237.40" cy="124.00" rx="3.6" ry="4.4" fill="url(#rg1)"/>
<path d="M286.50,118.25 L543.85,118.25 A6.05,6.05 0 0 1 549.90,124.30 L549.90,124.30 A6.05,6.05 0 0 1 543.85,130.35 L286.50,130.35 A4.60,3.40 0 0 1 281.90,126.95 L281.90,121.65 A4.60,3.40 0 0 1 286.50,118.25 Z" fill="url(#lg14)"/>
<path d="M286.50,118.65 L543.85,118.65 A5.65,5.65 0 0 1 549.50,124.30 L549.50,124.30 A5.65,5.65 0 0 1 543.85,129.95 L286.50,129.95 A4.20,3.00 0 0 1 282.30,126.95 L282.30,121.65 A4.20,3.00 0 0 1 286.50,118.65 Z" fill="none" stroke="#c57f3f" stroke-width="0.9" stroke-opacity="0.95"/>
<ellipse cx="545.30" cy="124.00" rx="3.6" ry="4.4" fill="url(#rg1)"/>
<rect x="385.00" y="118.25" width="10.00" height="12.10" fill="url(#lg15)"/>
<rect x="528.70" y="118.25" width="9.70" height="12.10" fill="url(#lg16)"/>
<circle cx="278.30" cy="124.30" r="5.45" fill="url(#rg2)"/>
<path d="M238.85,201.25 L270.10,201.25 A4.60,3.40 0 0 1 274.70,204.65 L274.70,209.95 A4.60,3.40 0 0 1 270.10,213.35 L238.85,213.35 A6.05,6.05 0 0 1 232.80,207.30 L232.80,207.30 A6.05,6.05 0 0 1 238.85,201.25 Z" fill="url(#lg17)"/>
<path d="M238.85,201.65 L270.10,201.65 A4.20,3.00 0 0 1 274.30,204.65 L274.30,209.95 A4.20,3.00 0 0 1 270.10,212.95 L238.85,212.95 A5.65,5.65 0 0 1 233.20,207.30 L233.20,207.30 A5.65,5.65 0 0 1 238.85,201.65 Z" fill="none" stroke="#4580ac" stroke-width="0.9" stroke-opacity="0.95"/>
<ellipse cx="237.40" cy="207.00" rx="3.6" ry="4.4" fill="url(#rg1)"/>
<path d="M286.50,201.25 L543.85,201.25 A6.05,6.05 0 0 1 549.90,207.30 L549.90,207.30 A6.05,6.05 0 0 1 543.85,213.35 L286.50,213.35 A4.60,3.40 0 0 1 281.90,209.95 L281.90,204.65 A4.60,3.40 0 0 1 286.50,201.25 Z" fill="url(#lg18)"/>
<path d="M286.50,201.65 L543.85,201.65 A5.65,5.65 0 0 1 549.50,207.30 L549.50,207.30 A5.65,5.65 0 0 1 543.85,212.95 L286.50,212.95 A4.20,3.00 0 0 1 282.30,209.95 L282.30,204.65 A4.20,3.00 0 0 1 286.50,201.65 Z" fill="none" stroke="#4580ac" stroke-width="0.9" stroke-opacity="0.95"/>
<ellipse cx="545.30" cy="207.00" rx="3.6" ry="4.4" fill="url(#rg1)"/>
<rect x="385.00" y="201.25" width="10.00" height="12.10" fill="url(#lg19)"/>
<rect x="528.70" y="201.25" width="9.70" height="12.10" fill="url(#lg20)"/>
<circle cx="278.30" cy="207.30" r="5.45" fill="url(#rg3)"/>
<path d="M238.85,134.95 L270.10,134.95 A4.60,3.40 0 0 1 274.70,138.35 L274.70,143.65 A4.60,3.40 0 0 1 270.10,147.05 L238.85,147.05 A6.05,6.05 0 0 1 232.80,141.00 L232.80,141.00 A6.05,6.05 0 0 1 238.85,134.95 Z" fill="url(#lg22)"/>
<path d="M238.85,135.35 L270.10,135.35 A4.20,3.00 0 0 1 274.30,138.35 L274.30,143.65 A4.20,3.00 0 0 1 270.10,146.65 L238.85,146.65 A5.65,5.65 0 0 1 233.20,141.00 L233.20,141.00 A5.65,5.65 0 0 1 238.85,135.35 Z" fill="none" stroke="#c57f3f" stroke-width="0.9" stroke-opacity="0.95"/>
<ellipse cx="237.40" cy="140.70" rx="3.6" ry="4.4" fill="url(#rg1)"/>
<path d="M238.85,184.65 L270.10,184.65 A4.60,3.40 0 0 1 274.70,188.05 L274.70,193.35 A4.60,3.40 0 0 1 270.10,196.75 L238.85,196.75 A6.05,6.05 0 0 1 232.80,190.70 L232.80,190.70 A6.05,6.05 0 0 1 238.85,184.65 Z" fill="url(#lg23)"/>
<path d="M238.85,185.05 L270.10,185.05 A4.20,3.00 0 0 1 274.30,188.05 L274.30,193.35 A4.20,3.00 0 0 1 270.10,196.35 L238.85,196.35 A5.65,5.65 0 0 1 233.20,190.70 L233.20,190.70 A5.65,5.65 0 0 1 238.85,185.05 Z" fill="none" stroke="#4580ac" stroke-width="0.9" stroke-opacity="0.95"/>
<ellipse cx="237.40" cy="190.40" rx="3.6" ry="4.4" fill="url(#rg1)"/>
<g>
<path d="M285.90,190.70 L310.30,190.70 L367.20,141.00 L545.90,141.00" fill="none" stroke="#ea9540" stroke-width="7.9" stroke-linejoin="miter"/>
<path d="M286.50,184.65 L308.94,184.65 L311.66,196.75 L286.50,196.75 A4.60,3.40 0 0 1 281.90,193.35 L281.90,188.05 A4.60,3.40 0 0 1 286.50,184.65 Z" fill="url(#lg24)"/>
<path d="M308.94,184.65 L365.84,134.95 L368.56,147.05 L311.66,196.75 Z" fill="url(#lg25)"/>
<path d="M365.84,134.95 L543.85,134.95 A6.05,6.05 0 0 1 549.90,141.00 L549.90,141.00 A6.05,6.05 0 0 1 543.85,147.05 L368.56,147.05 Z" fill="url(#lg26)"/>
<path d="M286.50,185.05 L309.09,185.05 L365.99,135.35 L543.85,135.35 A5.65,5.65 0 0 1 549.50,141.00 L549.50,141.00 A5.65,5.65 0 0 1 543.85,146.65 L368.41,146.65 L311.51,196.35 L286.50,196.35 A4.20,3.00 0 0 1 282.30,193.35 L282.30,188.05 A4.20,3.00 0 0 1 286.50,185.05 Z" fill="none" stroke="#c57f3f" stroke-width="0.9" stroke-opacity="0.6"/>
<path d="M285.90,141.00 L305.90,141.00 L363.40,190.70 L545.90,190.70" fill="none" stroke="#ea9540" stroke-width="7.9" stroke-linejoin="miter"/>
<path d="M286.50,134.95 L307.23,134.95 L304.57,147.05 L286.50,147.05 A4.60,3.40 0 0 1 281.90,143.65 L281.90,138.35 A4.60,3.40 0 0 1 286.50,134.95 Z" fill="url(#lg27)"/>
<path d="M307.23,134.95 L364.73,184.65 L362.07,196.75 L304.57,147.05 Z" fill="url(#lg28)"/>
<path d="M364.73,184.65 L543.85,184.65 A6.05,6.05 0 0 1 549.90,190.70 L549.90,190.70 A6.05,6.05 0 0 1 543.85,196.75 L362.07,196.75 Z" fill="url(#lg29)"/>
<path d="M286.50,135.35 L307.09,135.35 L364.59,185.05 L543.85,185.05 A5.65,5.65 0 0 1 549.50,190.70 L549.50,190.70 A5.65,5.65 0 0 1 543.85,196.35 L362.21,196.35 L304.71,146.65 L286.50,146.65 A4.20,3.00 0 0 1 282.30,143.65 L282.30,138.35 A4.20,3.00 0 0 1 286.50,135.35 Z" fill="none" stroke="#c57f3f" stroke-width="0.9" stroke-opacity="0.6"/>
</g>
<g mask="url(#mlow)">
<path d="M285.90,190.70 L310.30,190.70 L367.20,141.00 L545.90,141.00" fill="none" stroke="#3a98d2" stroke-width="7.9" stroke-linejoin="miter"/>
<path d="M286.50,184.65 L308.94,184.65 L311.66,196.75 L286.50,196.75 A4.60,3.40 0 0 1 281.90,193.35 L281.90,188.05 A4.60,3.40 0 0 1 286.50,184.65 Z" fill="url(#lg30)"/>
<path d="M308.94,184.65 L365.84,134.95 L368.56,147.05 L311.66,196.75 Z" fill="url(#lg31)"/>
<path d="M365.84,134.95 L543.85,134.95 A6.05,6.05 0 0 1 549.90,141.00 L549.90,141.00 A6.05,6.05 0 0 1 543.85,147.05 L368.56,147.05 Z" fill="url(#lg32)"/>
<path d="M286.50,185.05 L309.09,185.05 L365.99,135.35 L543.85,135.35 A5.65,5.65 0 0 1 549.50,141.00 L549.50,141.00 A5.65,5.65 0 0 1 543.85,146.65 L368.41,146.65 L311.51,196.35 L286.50,196.35 A4.20,3.00 0 0 1 282.30,193.35 L282.30,188.05 A4.20,3.00 0 0 1 286.50,185.05 Z" fill="none" stroke="#4580ac" stroke-width="0.9" stroke-opacity="0.6"/>
<path d="M285.90,141.00 L305.90,141.00 L363.40,190.70 L545.90,190.70" fill="none" stroke="#3a98d2" stroke-width="7.9" stroke-linejoin="miter"/>
<path d="M286.50,134.95 L307.23,134.95 L304.57,147.05 L286.50,147.05 A4.60,3.40 0 0 1 281.90,143.65 L281.90,138.35 A4.60,3.40 0 0 1 286.50,134.95 Z" fill="url(#lg33)"/>
<path d="M307.23,134.95 L364.73,184.65 L362.07,196.75 L304.57,147.05 Z" fill="url(#lg34)"/>
<path d="M364.73,184.65 L543.85,184.65 A6.05,6.05 0 0 1 549.90,190.70 L549.90,190.70 A6.05,6.05 0 0 1 543.85,196.75 L362.07,196.75 Z" fill="url(#lg35)"/>
<path d="M286.50,135.35 L307.09,135.35 L364.59,185.05 L543.85,185.05 A5.65,5.65 0 0 1 549.50,190.70 L549.50,190.70 A5.65,5.65 0 0 1 543.85,196.35 L362.21,196.35 L304.71,146.65 L286.50,146.65 A4.20,3.00 0 0 1 282.30,143.65 L282.30,138.35 A4.20,3.00 0 0 1 286.50,135.35 Z" fill="none" stroke="#4580ac" stroke-width="0.9" stroke-opacity="0.6"/>
</g>
<ellipse cx="545.30" cy="140.70" rx="3.6" ry="4.4" fill="url(#rg1)"/>
<ellipse cx="545.30" cy="190.40" rx="3.6" ry="4.4" fill="url(#rg1)"/>
<circle cx="335.9" cy="167.6" r="6" fill="url(#rg36)"/>
<rect x="385.00" y="134.95" width="10.00" height="12.10" fill="url(#lg37)"/>
<rect x="385.00" y="184.65" width="10.00" height="12.10" fill="url(#lg38)"/>
<rect x="528.70" y="134.95" width="9.70" height="12.10" fill="url(#lg39)"/>
<rect x="528.70" y="184.65" width="9.70" height="12.10" fill="url(#lg40)"/>
<circle cx="278.30" cy="141.00" r="5.45" fill="url(#rg2)"/>
<circle cx="278.30" cy="190.70" r="5.45" fill="url(#rg3)"/>
<ellipse cx="686.8" cy="145.6" rx="85.7" ry="84.5" fill="none" stroke="#3c3c3c" stroke-width="1.05"/>
<ellipse cx="686.8" cy="323.4" rx="85.7" ry="84.9" fill="none" stroke="#3c3c3c" stroke-width="1.05"/>
<path d="M618.25,130.65 L649.50,130.65 A4.60,3.40 0 0 1 654.10,134.05 L654.10,139.35 A4.60,3.40 0 0 1 649.50,142.75 L618.25,142.75 A6.05,6.05 0 0 1 612.20,136.70 L612.20,136.70 A6.05,6.05 0 0 1 618.25,130.65 Z" fill="url(#lg41)"/>
<path d="M618.25,131.05 L649.50,131.05 A4.20,3.00 0 0 1 653.70,134.05 L653.70,139.35 A4.20,3.00 0 0 1 649.50,142.35 L618.25,142.35 A5.65,5.65 0 0 1 612.60,136.70 L612.60,136.70 A5.65,5.65 0 0 1 618.25,131.05 Z" fill="none" stroke="#c57f3f" stroke-width="0.9" stroke-opacity="0.95"/>
<ellipse cx="616.80" cy="136.40" rx="3.6" ry="4.4" fill="url(#rg1)"/>
<path d="M665.90,130.65 L750.05,130.65 A6.05,6.05 0 0 1 756.10,136.70 L756.10,136.70 A6.05,6.05 0 0 1 750.05,142.75 L665.90,142.75 A4.60,3.40 0 0 1 661.30,139.35 L661.30,134.05 A4.60,3.40 0 0 1 665.90,130.65 Z" fill="url(#lg42)"/>
<path d="M665.90,131.05 L750.05,131.05 A5.65,5.65 0 0 1 755.70,136.70 L755.70,136.70 A5.65,5.65 0 0 1 750.05,142.35 L665.90,142.35 A4.20,3.00 0 0 1 661.70,139.35 L661.70,134.05 A4.20,3.00 0 0 1 665.90,131.05 Z" fill="none" stroke="#c57f3f" stroke-width="0.9" stroke-opacity="0.95"/>
<ellipse cx="751.50" cy="136.40" rx="3.6" ry="4.4" fill="url(#rg1)"/>
<rect x="690.00" y="130.65" width="9.80" height="12.10" fill="url(#lg43)"/>
<rect x="735.50" y="130.65" width="9.30" height="12.10" fill="url(#lg44)"/>
<circle cx="657.70" cy="136.70" r="5.45" fill="url(#rg2)"/>
<path d="M618.25,156.15 L649.50,156.15 A4.60,3.40 0 0 1 654.10,159.55 L654.10,164.85 A4.60,3.40 0 0 1 649.50,168.25 L618.25,168.25 A6.05,6.05 0 0 1 612.20,162.20 L612.20,162.20 A6.05,6.05 0 0 1 618.25,156.15 Z" fill="url(#lg45)"/>
<path d="M618.25,156.55 L649.50,156.55 A4.20,3.00 0 0 1 653.70,159.55 L653.70,164.85 A4.20,3.00 0 0 1 649.50,167.85 L618.25,167.85 A5.65,5.65 0 0 1 612.60,162.20 L612.60,162.20 A5.65,5.65 0 0 1 618.25,156.55 Z" fill="none" stroke="#4580ac" stroke-width="0.9" stroke-opacity="0.95"/>
<ellipse cx="616.80" cy="161.90" rx="3.6" ry="4.4" fill="url(#rg1)"/>
<path d="M665.90,156.15 L750.05,156.15 A6.05,6.05 0 0 1 756.10,162.20 L756.10,162.20 A6.05,6.05 0 0 1 750.05,168.25 L665.90,168.25 A4.60,3.40 0 0 1 661.30,164.85 L661.30,159.55 A4.60,3.40 0 0 1 665.90,156.15 Z" fill="url(#lg48)" clip-path="url(#cp46)"/>
<path d="M665.90,156.55 L750.05,156.55 A5.65,5.65 0 0 1 755.70,162.20 L755.70,162.20 A5.65,5.65 0 0 1 750.05,167.85 L665.90,167.85 A4.20,3.00 0 0 1 661.70,164.85 L661.70,159.55 A4.20,3.00 0 0 1 665.90,156.55 Z" fill="none" stroke="#4580ac" stroke-width="0.9" stroke-opacity="0.95" clip-path="url(#cp46)"/>
<ellipse cx="751.50" cy="161.90" rx="3.6" ry="4.4" fill="url(#rg1)" clip-path="url(#cp46)"/>
<path d="M665.90,156.15 L750.05,156.15 A6.05,6.05 0 0 1 756.10,162.20 L756.10,162.20 A6.05,6.05 0 0 1 750.05,168.25 L665.90,168.25 A4.60,3.40 0 0 1 661.30,164.85 L661.30,159.55 A4.60,3.40 0 0 1 665.90,156.15 Z" fill="url(#lg49)" clip-path="url(#cp47)"/>
<path d="M665.90,156.55 L750.05,156.55 A5.65,5.65 0 0 1 755.70,162.20 L755.70,162.20 A5.65,5.65 0 0 1 750.05,167.85 L665.90,167.85 A4.20,3.00 0 0 1 661.70,164.85 L661.70,159.55 A4.20,3.00 0 0 1 665.90,156.55 Z" fill="none" stroke="#c57f3f" stroke-width="0.9" stroke-opacity="0.95" clip-path="url(#cp47)"/>
<ellipse cx="751.50" cy="161.90" rx="3.6" ry="4.4" fill="url(#rg1)" clip-path="url(#cp47)"/>
<rect x="690.00" y="156.15" width="9.80" height="12.10" fill="url(#lg50)"/>
<rect x="735.50" y="156.15" width="9.30" height="12.10" fill="url(#lg51)"/>
<circle cx="657.70" cy="162.20" r="5.45" fill="url(#rg3)"/>
<path d="M618.25,308.45 L649.50,308.45 A4.60,3.40 0 0 1 654.10,311.85 L654.10,317.15 A4.60,3.40 0 0 1 649.50,320.55 L618.25,320.55 A6.05,6.05 0 0 1 612.20,314.50 L612.20,314.50 A6.05,6.05 0 0 1 618.25,308.45 Z" fill="url(#lg52)"/>
<path d="M618.25,308.85 L649.50,308.85 A4.20,3.00 0 0 1 653.70,311.85 L653.70,317.15 A4.20,3.00 0 0 1 649.50,320.15 L618.25,320.15 A5.65,5.65 0 0 1 612.60,314.50 L612.60,314.50 A5.65,5.65 0 0 1 618.25,308.85 Z" fill="none" stroke="#c57f3f" stroke-width="0.9" stroke-opacity="0.95"/>
<ellipse cx="616.80" cy="314.20" rx="3.6" ry="4.4" fill="url(#rg1)"/>
<path d="M665.90,308.45 L750.05,308.45 A6.05,6.05 0 0 1 756.10,314.50 L756.10,314.50 A6.05,6.05 0 0 1 750.05,320.55 L665.90,320.55 A4.60,3.40 0 0 1 661.30,317.15 L661.30,311.85 A4.60,3.40 0 0 1 665.90,308.45 Z" fill="url(#lg55)" clip-path="url(#cp53)"/>
<path d="M665.90,308.85 L750.05,308.85 A5.65,5.65 0 0 1 755.70,314.50 L755.70,314.50 A5.65,5.65 0 0 1 750.05,320.15 L665.90,320.15 A4.20,3.00 0 0 1 661.70,317.15 L661.70,311.85 A4.20,3.00 0 0 1 665.90,308.85 Z" fill="none" stroke="#c57f3f" stroke-width="0.9" stroke-opacity="0.95" clip-path="url(#cp53)"/>
<ellipse cx="751.50" cy="314.20" rx="3.6" ry="4.4" fill="url(#rg1)" clip-path="url(#cp53)"/>
<path d="M665.90,308.45 L750.05,308.45 A6.05,6.05 0 0 1 756.10,314.50 L756.10,314.50 A6.05,6.05 0 0 1 750.05,320.55 L665.90,320.55 A4.60,3.40 0 0 1 661.30,317.15 L661.30,311.85 A4.60,3.40 0 0 1 665.90,308.45 Z" fill="url(#lg56)" clip-path="url(#cp54)"/>
<path d="M665.90,308.85 L750.05,308.85 A5.65,5.65 0 0 1 755.70,314.50 L755.70,314.50 A5.65,5.65 0 0 1 750.05,320.15 L665.90,320.15 A4.20,3.00 0 0 1 661.70,317.15 L661.70,311.85 A4.20,3.00 0 0 1 665.90,308.85 Z" fill="none" stroke="#4580ac" stroke-width="0.9" stroke-opacity="0.95" clip-path="url(#cp54)"/>
<ellipse cx="751.50" cy="314.20" rx="3.6" ry="4.4" fill="url(#rg1)" clip-path="url(#cp54)"/>
<rect x="690.00" y="308.45" width="9.80" height="12.10" fill="url(#lg57)"/>
<rect x="735.50" y="308.45" width="9.30" height="12.10" fill="url(#lg58)"/>
<circle cx="657.70" cy="314.50" r="5.45" fill="url(#rg2)"/>
<path d="M618.25,333.65 L649.50,333.65 A4.60,3.40 0 0 1 654.10,337.05 L654.10,342.35 A4.60,3.40 0 0 1 649.50,345.75 L618.25,345.75 A6.05,6.05 0 0 1 612.20,339.70 L612.20,339.70 A6.05,6.05 0 0 1 618.25,333.65 Z" fill="url(#lg59)"/>
<path d="M618.25,334.05 L649.50,334.05 A4.20,3.00 0 0 1 653.70,337.05 L653.70,342.35 A4.20,3.00 0 0 1 649.50,345.35 L618.25,345.35 A5.65,5.65 0 0 1 612.60,339.70 L612.60,339.70 A5.65,5.65 0 0 1 618.25,334.05 Z" fill="none" stroke="#4580ac" stroke-width="0.9" stroke-opacity="0.95"/>
<ellipse cx="616.80" cy="339.40" rx="3.6" ry="4.4" fill="url(#rg1)"/>
<path d="M665.90,333.65 L750.05,333.65 A6.05,6.05 0 0 1 756.10,339.70 L756.10,339.70 A6.05,6.05 0 0 1 750.05,345.75 L665.90,345.75 A4.60,3.40 0 0 1 661.30,342.35 L661.30,337.05 A4.60,3.40 0 0 1 665.90,333.65 Z" fill="url(#lg60)"/>
<path d="M665.90,334.05 L750.05,334.05 A5.65,5.65 0 0 1 755.70,339.70 L755.70,339.70 A5.65,5.65 0 0 1 750.05,345.35 L665.90,345.35 A4.20,3.00 0 0 1 661.70,342.35 L661.70,337.05 A4.20,3.00 0 0 1 665.90,334.05 Z" fill="none" stroke="#4580ac" stroke-width="0.9" stroke-opacity="0.95"/>
<ellipse cx="751.50" cy="339.40" rx="3.6" ry="4.4" fill="url(#rg1)"/>
<rect x="690.00" y="333.65" width="9.80" height="12.10" fill="url(#lg61)"/>
<rect x="735.50" y="333.65" width="9.30" height="12.10" fill="url(#lg62)"/>
<circle cx="657.70" cy="339.70" r="5.45" fill="url(#rg3)"/>
<use href="#bn" x="811.3" y="159.5" fill="#2e2e2e"/>
<use href="#bn" x="827.4" y="159.5" fill="#2e2e2e"/>
<use href="#bn" x="843.5" y="159.5" fill="#2e2e2e"/>
<use href="#bn" x="859.4" y="159.5" fill="#2e2e2e"/>
<use href="#bn" x="875.3" y="159.5" fill="#2e2e2e"/>
<use href="#bn" x="891.2" y="159.5" fill="#2e2e2e"/>
<use href="#bn" x="907.2" y="159.5" fill="#2e2e2e"/>
<use href="#bs" x="803.0" y="190.0" fill="#2e2e2e" stroke="#2e2e2e"/>
<use href="#bs" x="818.7" y="190.0" fill="#2e2e2e" stroke="#2e2e2e"/>
<use href="#bs" x="834.3" y="190.0" fill="#2e2e2e" stroke="#2e2e2e"/>
<use href="#bn" x="850.6" y="190.0" fill="#2e2e2e"/>
<use href="#bn" x="866.4" y="190.0" fill="#f5c43a"/>
<use href="#bn" x="882.5" y="190.0" fill="#f5c43a"/>
<use href="#bn" x="898.6" y="190.0" fill="#f5c43a"/>
<use href="#bn" x="913.6" y="190.0" fill="#2e2e2e"/>
<use href="#bs" x="810.8" y="219.8" fill="#2e2e2e" stroke="#2e2e2e"/>
<use href="#bs" x="826.9" y="219.8" fill="#2e2e2e" stroke="#2e2e2e"/>
<use href="#bn" x="843.5" y="219.8" fill="#2e2e2e"/>
<use href="#bn" x="859.4" y="219.8" fill="#2e2e2e"/>
<use href="#bn" x="875.3" y="219.8" fill="#f5c43a"/>
<use href="#bn" x="891.2" y="219.8" fill="#f5c43a"/>
<use href="#bn" x="907.2" y="219.8" fill="#2e2e2e"/>
<use href="#bs" x="803.0" y="250.0" fill="#2e2e2e" stroke="#2e2e2e"/>
<use href="#bs" x="818.7" y="250.0" fill="#2e2e2e" stroke="#2e2e2e"/>
<use href="#bs" x="834.3" y="250.0" fill="#2e2e2e" stroke="#2e2e2e"/>
<use href="#bn" x="850.6" y="250.0" fill="#2e2e2e"/>
<use href="#bn" x="866.4" y="250.0" fill="#f5c43a"/>
<use href="#bn" x="882.5" y="250.0" fill="#f5c43a"/>
<use href="#bn" x="898.6" y="250.0" fill="#f5c43a"/>
<use href="#bn" x="913.6" y="250.0" fill="#2e2e2e"/>
<use href="#bn" x="811.3" y="280.6" fill="#2e2e2e"/>
<use href="#bn" x="827.4" y="280.6" fill="#2e2e2e"/>
<use href="#bn" x="843.5" y="280.6" fill="#2e2e2e"/>
<use href="#bn" x="859.4" y="280.6" fill="#2e2e2e"/>
<use href="#bn" x="875.3" y="280.6" fill="#2e2e2e"/>
<use href="#bn" x="891.2" y="280.6" fill="#2e2e2e"/>
<use href="#bn" x="907.2" y="280.6" fill="#2e2e2e"/>
<g opacity="0.999">
<text x="124.30" y="119.60" font-size="18" text-anchor="middle" fill="#444244">+</text>
<text x="166.40" y="117.60" font-size="15" font-style="italic" fill="#444244">y</text>
<text x="118.60" y="183.50" font-size="15" textLength="14" lengthAdjust="spacingAndGlyphs" font-style="italic" fill="#444244">sn</text>
<text x="169.00" y="185.60" font-size="18" text-anchor="middle" fill="#444244">+</text>
<text x="390.90" y="112.70" font-size="18" text-anchor="middle" fill="#444244">+</text>
<text x="530.80" y="110.60" font-size="15" font-style="italic" fill="#444244">y</text>
<text x="390.90" y="160.90" font-size="18" text-anchor="middle" fill="#444244">+</text>
<text x="530.80" y="158.60" font-size="15" font-style="italic" fill="#444244">y</text>
<text x="384.40" y="177.80" font-size="15" textLength="14" lengthAdjust="spacingAndGlyphs" font-style="italic" fill="#444244">sn</text>
<text x="534.30" y="180.00" font-size="18" text-anchor="middle" fill="#444244">+</text>
<text x="384.40" y="224.10" font-size="15" textLength="14" lengthAdjust="spacingAndGlyphs" font-style="italic" fill="#444244">sn</text>
<text x="534.30" y="226.90" font-size="18" text-anchor="middle" fill="#444244">+</text>
<text x="337.90" y="258.00" font-size="15.2" textLength="109.0" lengthAdjust="spacingAndGlyphs" fill="#444244">Single exchange</text>
<text x="286.4" y="274.5" font-size="15.2" textLength="212.2" lengthAdjust="spacingAndGlyphs" fill="#444244">between <tspan font-style="italic">sn</tspan> and the centromere</text>
<text x="695.50" y="125.10" font-size="18" text-anchor="middle" fill="#444244">+</text>
<text x="737.60" y="123.00" font-size="15" font-style="italic" fill="#444244">y</text>
<text x="695.50" y="183.10" font-size="18" text-anchor="middle" fill="#444244">+</text>
<text x="737.60" y="181.20" font-size="15" font-style="italic" fill="#444244">y</text>
<text x="782.20" y="149.40" font-size="15" font-style="italic" fill="#444244">y</text>
<text x="690.40" y="300.30" font-size="15" textLength="14" lengthAdjust="spacingAndGlyphs" font-style="italic" fill="#444244">sn</text>
<text x="740.90" y="302.60" font-size="18" text-anchor="middle" fill="#444244">+</text>
<text x="690.40" y="358.30" font-size="15" textLength="14" lengthAdjust="spacingAndGlyphs" font-style="italic" fill="#444244">sn</text>
<text x="740.90" y="360.60" font-size="18" text-anchor="middle" fill="#444244">+</text>
<text x="779.20" y="328.70" font-size="15" textLength="14" lengthAdjust="spacingAndGlyphs" font-style="italic" fill="#444244">sn</text>
<text x="835.60" y="343.80" font-size="15.2" textLength="63.2" lengthAdjust="spacingAndGlyphs" fill="#444244">Twin spot</text>
<text x="827.70" y="360.30" font-size="15.2" textLength="78.2" lengthAdjust="spacingAndGlyphs" fill="#444244">(yellow and</text>
<text x="823.30" y="376.90" font-size="15.2" textLength="87.2" lengthAdjust="spacingAndGlyphs" fill="#444244">singed spots)</text>
</g>
</svg>
</body></html>
